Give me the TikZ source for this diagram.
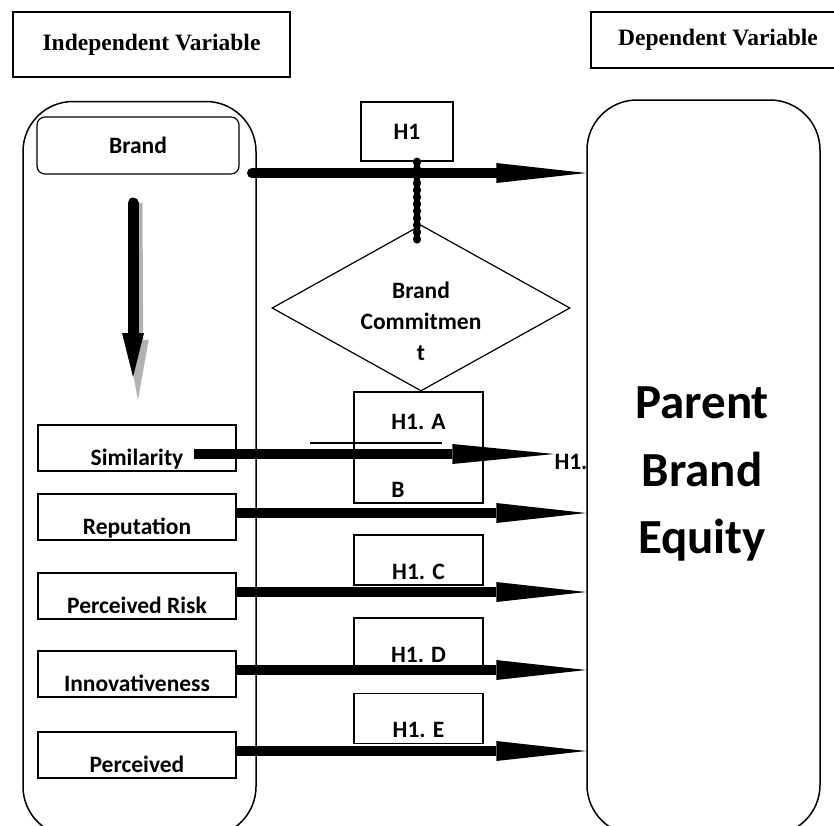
\documentclass[tikz,border=0pt]{standalone}
\usepackage{fontspec}
\setmainfont{Liberation Serif}
\newfontfamily\calibri{Carlito}
\usetikzlibrary{arrows.meta,shapes.geometric}

\begin{document}
\begin{tikzpicture}[x=1pt,y=-1pt,
    heading/.style={draw, line width=2pt, inner sep=0pt, font=\bfseries\fontsize{23.5}{27}\selectfont},
    bigbox/.style={draw, line width=1.5pt, rounded corners=50pt, minimum width=233pt, minimum height=735pt},
    factor/.style={draw, line width=1.2pt, minimum width=198pt, minimum height=46pt, inner sep=0pt, text height=38pt, text depth=3pt, font=\calibri\bfseries\fontsize{23.5}{28}\selectfont},
    hyp/.style={draw, line width=1.2pt, minimum width=129pt, minimum height=50pt, inner sep=0pt, text height=41pt, text depth=3pt, font=\calibri\bfseries\fontsize{23.5}{28}\selectfont},
    txt/.style={font=\calibri\bfseries\fontsize{23.5}{31}\selectfont, align=center, inner sep=0pt},
    effect/.style={line width=10pt, -{Triangle[length=90pt,width=20pt,line width=0pt]}}]
    \useasboundingbox (0,0) rectangle (834,825);
    % Headings
    \node[heading, minimum width=277pt, minimum height=65pt] (indep) at (151.5,44.5) {Independent Variable};
    \node[heading, minimum width=254pt, minimum height=56pt] (dep) at (718,40) {Dependent Variable};
    % Big boxes
    \node[bigbox] (ivbox) at (139.5,469) {};
    \node[bigbox] (pbe) at (703.5,467.5) {};
    \node[txt, font=\calibri\bfseries\fontsize{49}{67.5}\selectfont] (pbetext) at (702,474) {Parent\\Brand\\Equity};
    % Brand and moderator
    \node[draw, line width=1.2pt, rounded corners=8pt, minimum width=202pt, minimum height=57pt, font=\calibri\bfseries\fontsize{23.5}{28}\selectfont] (brand) at (138,145.5) {Brand};
    \node[draw, line width=1.2pt, minimum width=92pt, minimum height=59pt, font=\calibri\bfseries\fontsize{23.5}{28}\selectfont] (hyp1) at (407,131.5) {H1};
    \node[diamond, draw, line width=1.2pt, minimum width=298pt, minimum height=166pt, inner sep=0pt] (commit) at (421,308) {};
    \node[txt] (committext) at (421,321) {Brand\\Commitmen\\t};
    % Dimensions
    \foreach \n/\y/\t in {sim/448/Similarity, rep/517/Reputation, risk/596/Perceived Risk, innov/674/Innovativeness, perc/755/Perceived}
        \node[factor] (\n) at (137,\y) {\t};
    % Hypotheses
    \node[hyp, minimum height=111pt] (hypA) at (418.5,447.5) {};
    \node[txt] (hypAtext) at (418.5,422) {H1. A};
    \node[txt] (hypBtext) at (398,490) {B};
    \node[txt] (hypBtail) at (571,462) {H1.};
    \foreach \n/\y/\t in {hypC/560/H1. C, hypD/643/H1. D, hypE/718.5/H1. E}
        \node[hyp] (\n) at (418.5,\y) {\t};
    \draw[line width=1.5pt] (310,443) -- (442,443);
    % Brand to equity
    \coordinate (brandout) at (252,173);
    \draw[effect, line cap=round] (brandout) -- (pbe.west |- brandout);
    \coordinate (dotend) at (417,243);
    \draw[line width=8pt, line cap=round, dash pattern=on 1pt off 6pt] (hyp1.south -| dotend) -- (dotend);
    % Brand flow
    \coordinate (flowtop) at (133,203);
    \coordinate (flowend) at (133,377);
    \draw[gray!60, line width=11pt, -{Triangle[length=60pt,width=22pt,line width=0pt]}] ([xshift=4pt]flowtop) -- (138,400);
    \draw[line width=11pt, line cap=round, -{Triangle[length=44pt,width=22pt,line width=0pt]}] (flowtop) -- (flowend);
    % Dimensions to equity
    \coordinate (simout) at (194,454);
    \draw[effect, -{Triangle[length=102pt,width=20pt,line width=0pt]}] (simout) -- (hypBtail.west |- simout);
    \foreach \n in {rep,risk,innov,perc} \draw[effect] ([yshift=4pt]\n.east) coordinate (\n-out) -- (pbe.west |- \n-out);
\end{tikzpicture}
\end{document}
